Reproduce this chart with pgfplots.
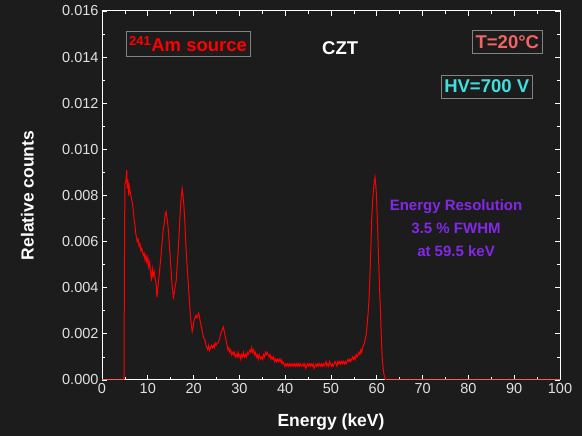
\documentclass[border=0pt]{standalone}
\usepackage{pgfplots}
\pgfplotsset{compat=1.18}
\usepackage{fontspec}
\setmainfont{Liberation Sans}
\definecolor{bg}{RGB}{28,28,28}
\definecolor{tickgray}{RGB}{225,225,225}
\definecolor{salmonT}{RGB}{240,100,100}
\definecolor{cyanHV}{RGB}{64,224,224}
\definecolor{purpleER}{RGB}{130,40,230}
\definecolor{boxgray}{RGB}{130,130,130}
\begin{document}
\begin{tikzpicture}[x=1pt,y=1pt]
\fill[bg] (0,0) rectangle (582,436);
\useasboundingbox (0,0) rectangle (582,436);
\begin{axis}[
  at={(102pt,56pt)}, anchor=south west,
  scale only axis, width=458pt, height=369pt,
  xmin=0, xmax=100, ymin=0, ymax=0.016,
  xtick={0,10,20,30,40,50,60,70,80,90,100},
  ytick={0,0.002,0.004,0.006,0.008,0.010,0.012,0.014,0.016},
  minor x tick num=1, minor y tick num=1,
  tick align=inside,
  major tick length=5pt, minor tick length=3pt,
  axis line style={white, line width=1pt},
  every tick/.style={white, line width=0.8pt},
  scaled y ticks=false,
  /pgf/number format/assume math mode=true,
  yticklabel style={/pgf/number format/fixed, /pgf/number format/fixed zerofill, /pgf/number format/precision=3},
  ticklabel style={font=\fontsize{14.5}{16}\selectfont, text=tickgray},
  xlabel={Energy (keV)}, ylabel={Relative counts},
  label style={font=\fontsize{17.5}{20}\selectfont\bfseries, text=white},
  xlabel style={at={(axis description cs:0.5,-0.114)}, anchor=center},
  ylabel style={at={(axis description cs:-0.163,0.5)}, anchor=center},
]
\addplot[red, line width=1pt] coordinates {
(0,0) (4.8,0) (4.9,0.0050) (5.0,0.0085) (5.2,0.0086) (5.4,0.0091) (5.5,0.0083) (5.65,0.0087) (5.8,0.0080) (5.95,0.0084)
(6.1,0.0082) (6.3,0.0080) (6.5,0.0078) (6.7,0.0076) (6.85,0.0073) (7.0,0.0070) (7.2,0.0067) (7.35,0.0064) (7.5,0.0062) (7.7,0.0060)
(7.9,0.0061) (8.1,0.0058) (8.3,0.0059) (8.5,0.0056) (8.7,0.0057) (9.0,0.0054) (9.2,0.0055) (9.4,0.0052) (9.6,0.0054) (9.8,0.0051)
(10.0,0.0053) (10.2,0.0049) (10.4,0.0051) (10.6,0.0047) (10.8,0.0043) (11.0,0.0048) (11.2,0.0045) (11.4,0.0047) (11.6,0.0044) (11.8,0.0042)
(12.0,0.0036) (12.2,0.0040) (12.4,0.0044) (12.6,0.0048) (12.8,0.0052) (13.0,0.0057) (13.2,0.0061) (13.4,0.0066) (13.6,0.0068) (13.8,0.0072)
(14.0,0.0073) (14.2,0.0070) (14.4,0.0067) (14.6,0.0062) (14.8,0.0056) (15.0,0.0050) (15.2,0.0044) (15.4,0.0039) (15.6,0.0036) (15.8,0.0038)
(16.0,0.0041) (16.2,0.0043) (16.4,0.0049) (16.6,0.0055) (16.8,0.0062) (17.0,0.0070) (17.2,0.0077) (17.4,0.0081) (17.5,0.0083) (17.7,0.0080)
(17.9,0.0075) (18.1,0.0068) (18.3,0.0059) (18.5,0.0052) (18.7,0.0046) (18.9,0.0040) (19.1,0.0034) (19.3,0.0028) (19.5,0.0024) (19.7,0.0021)
(19.9,0.0023) (20.1,0.0026) (20.3,0.0027) (20.5,0.0028) (20.7,0.0027) (20.9,0.0028) (21.1,0.0029) (21.3,0.0027) (21.5,0.0025) (21.7,0.0023)
(21.9,0.0021) (22.1,0.0019) (22.3,0.0018) (22.5,0.0017) (22.7,0.0015) (22.9,0.0014) (23.1,0.0013) (23.3,0.0015) (23.5,0.0013) (23.7,0.0014)
(23.9,0.0015) (24.1,0.0014) (24.3,0.0015) (24.5,0.0014) (24.7,0.0016) (24.9,0.0015) (25.1,0.0016) (25.3,0.0016) (25.5,0.0017) (25.7,0.0018)
(25.9,0.0020) (26.1,0.0021) (26.3,0.0022) (26.5,0.0023) (26.7,0.0021) (26.9,0.0019) (27.1,0.0017) (27.3,0.0015) (27.5,0.0013) (27.7,0.0014)
(27.9,0.0012) (28.1,0.0013) (28.3,0.0011) (28.5,0.0012) (28.7,0.0011) (28.9,0.0012) (29.1,0.0010) (29.3,0.0011) (29.5,0.0010) (29.7,0.0012)
(29.9,0.0010) (30.1,0.0011) (30.3,0.0009) (30.5,0.0011) (30.7,0.0010) (30.9,0.0012) (31.1,0.0010) (31.3,0.0011) (31.5,0.0010) (31.7,0.0012)
(31.9,0.0011) (32.1,0.0012) (32.3,0.0013) (32.5,0.0012) (32.7,0.0014) (32.9,0.0012) (33.1,0.0013) (33.3,0.0011) (33.5,0.0012) (33.7,0.0010)
(33.9,0.0011) (34.1,0.0009) (34.3,0.0011) (34.5,0.0010) (34.7,0.0009) (34.9,0.0010) (35.1,0.0009) (35.3,0.0011) (35.5,0.0010) (35.7,0.0012)
(35.9,0.0011) (36.1,0.0012) (36.3,0.0011) (36.5,0.0010) (36.7,0.0011) (36.9,0.0009) (37.1,0.0010) (37.3,0.0009) (37.5,0.0010) (37.7,0.0008)
(37.9,0.0009) (38.1,0.0008) (38.3,0.0009) (38.5,0.0008) (38.7,0.0009) (38.9,0.0008) (39.1,0.0009) (39.3,0.0007) (39.5,0.0008) (39.7,0.0007)
(39.9,0.0006) (40.1,0.0007) (40.3,0.0006) (40.5,0.0007) (40.7,0.0006) (40.9,0.0007) (41.1,0.0006) (41.3,0.0007) (41.5,0.0006) (41.7,0.0007)
(41.9,0.0006) (42.1,0.0007) (42.3,0.0006) (42.5,0.0007) (42.7,0.0006) (42.9,0.0007) (43.1,0.0006) (43.3,0.0007) (43.5,0.0006) (43.7,0.0006)
(43.9,0.0007) (44.1,0.0006) (44.3,0.0007) (44.5,0.0005) (44.7,0.0006) (44.9,0.0007) (45.1,0.0006) (45.3,0.0007) (45.5,0.0006) (45.7,0.0007)
(45.9,0.0006) (46.1,0.0007) (46.3,0.0005) (46.5,0.0006) (46.7,0.0007) (46.9,0.0006) (47.1,0.0007) (47.3,0.0006) (47.5,0.0007) (47.7,0.0006)
(47.9,0.0007) (48.1,0.0006) (48.3,0.0007) (48.5,0.0006) (48.7,0.0007) (48.9,0.0008) (49.1,0.0006) (49.3,0.0007) (49.5,0.0006) (49.7,0.0008)
(49.9,0.0007) (50.1,0.0006) (50.3,0.0007) (50.5,0.0006) (50.7,0.0007) (50.9,0.0008) (51.1,0.0007) (51.3,0.0006) (51.5,0.0008) (51.7,0.0007)
(51.9,0.0008) (52.1,0.0007) (52.3,0.0008) (52.5,0.0007) (52.7,0.0008) (52.9,0.0007) (53.1,0.0008) (53.3,0.0007) (53.5,0.0008) (53.7,0.0009)
(53.9,0.0008) (54.1,0.0009) (54.3,0.0008) (54.5,0.0009) (54.7,0.0010) (54.9,0.0009) (55.1,0.0010) (55.3,0.0009) (55.5,0.0011) (55.7,0.0010)
(55.9,0.0011) (56.1,0.0012) (56.3,0.0011) (56.5,0.0013) (56.7,0.0012) (56.9,0.0014) (57.1,0.0015) (57.3,0.0016) (57.5,0.0018) (57.7,0.0020)
(57.9,0.0024) (58.1,0.0029) (58.3,0.0035) (58.5,0.0045) (58.7,0.0057) (58.9,0.0070) (59.1,0.0078) (59.3,0.0083) (59.45,0.0086) (59.6,0.0088)
(59.75,0.0085) (59.9,0.0081) (60.0,0.0076) (60.2,0.0065) (60.4,0.0052) (60.6,0.0040) (60.8,0.0030) (61.0,0.0018) (61.2,0.0009) (61.5,0.0003)
(61.9,0) (100,0)
};
\node[draw=boxgray, line width=0.6pt, text=red, font=\fontsize{18.5}{20}\selectfont\bfseries, inner xsep=3pt, inner ysep=5pt] at (axis cs:18.8,0.01457) {\textsuperscript{241}Am source};
\node[text=white, font=\fontsize{18.5}{20}\selectfont\bfseries] at (axis cs:52,0.0144) {CZT};
\node[draw=boxgray, line width=0.6pt, text=salmonT, font=\fontsize{18.5}{20}\selectfont\bfseries, inner xsep=3pt, inner ysep=5pt] at (axis cs:88.5,0.01466) {T=20°C};
\node[draw=boxgray, line width=0.6pt, text=cyanHV, font=\fontsize{18.5}{20}\selectfont\bfseries, inner xsep=3pt, inner ysep=5pt] at (axis cs:84,0.01273) {HV=700 V};
\node[text=purpleER, font=\fontsize{15}{17}\selectfont\bfseries, align=center] at (axis cs:77.3,0.00659) {Energy Resolution\\[6pt]3.5 \% FWHM\\[6pt]at 59.5 keV};
\end{axis}
\end{tikzpicture}
\end{document}
